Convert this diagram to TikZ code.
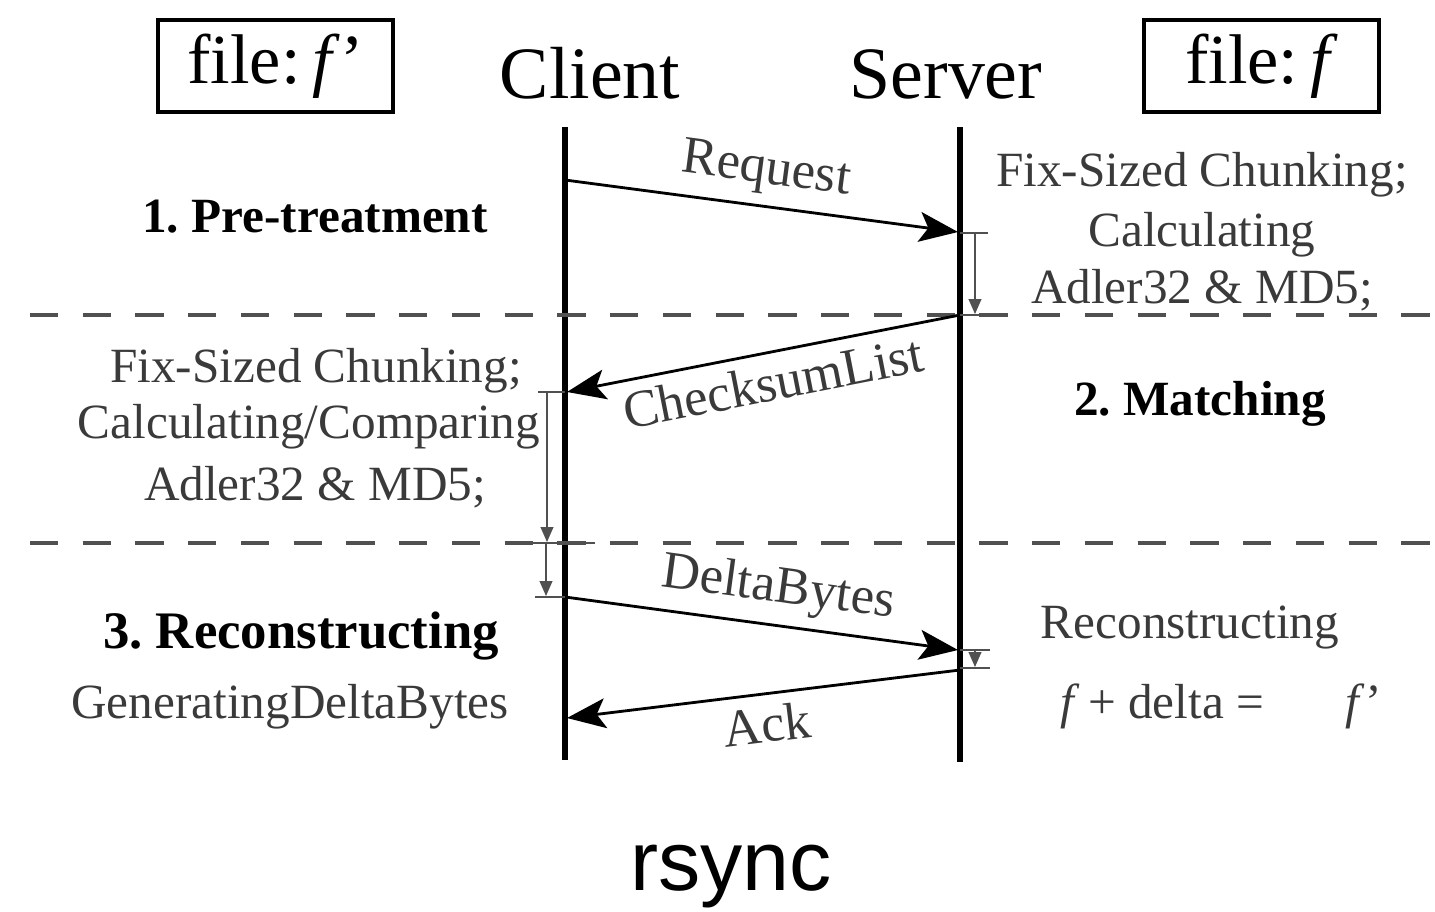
\documentclass[tikz,border=0pt]{standalone}
\usepackage{fontspec}
\setmainfont{Liberation Serif}
\newfontfamily\rsyncfont{Liberation Sans}
\usetikzlibrary{arrows.meta}
\definecolor{labelgray}{HTML}{3A3A3A}
\definecolor{rulegray}{HTML}{505050}
\frenchspacing

\begin{document}
\begin{tikzpicture}[x=0.01cm,y=-0.01cm,
  lifeline/.style={line width=1.5pt, black},
  msg/.style={line width=0.8pt, black, -{Stealth[length=11pt,width=8.5pt,inset=2.5pt]}},
  phase/.style={line width=0.9pt, rulegray, dash pattern=on 8pt off 7pt},
  tickmark/.style={line width=0.7pt, rulegray},
  duration/.style={line width=0.4pt, rulegray, -{Triangle[length=4.2pt,width=3.6pt]}},
  actor/.style={font=\fontsize{21}{25}\selectfont, anchor=base, inner sep=0pt},
  filebox/.style={draw, line width=0.9pt, minimum width=2.35cm, minimum height=0.92cm,
    inner sep=0pt, font=\fontsize{20}{24}\selectfont},
  phasename/.style={font=\bfseries\fontsize{14}{17}\selectfont, anchor=base, inner sep=0pt},
  note/.style={font=\fontsize{14}{17}\selectfont, text=labelgray, anchor=base, inner sep=0pt},
  msglabel/.style={font=\fontsize{15}{18}\selectfont, text=labelgray, sloped, inner sep=3pt}
]
\useasboundingbox (0,0) rectangle (1435,912);

% files and actors
\node[filebox] (fileC) at (275.5,66) {file:\,\textit{f}’};
\node[filebox] (fileS) at (1261.5,66) {file:\,\textit{f}};
\node[actor] (client) at (590,98) {Client};
\node[actor] (server) at (946,98) {Server};

% lifelines
\coordinate (cTop) at (565,127);
\coordinate (cBot) at (565,760);
\coordinate (sTop) at (960,127);
\coordinate (sBot) at (960,762);
\draw[lifeline] (cTop) -- (cBot);
\draw[lifeline] (sTop) -- (sBot);

% phase separators
\coordinate (p1L) at (30,315);
\coordinate (p1R) at (1435,315);
\coordinate (p2L) at (30,543);
\coordinate (p2R) at (1435,543);
\draw[phase] (p1L) -- (p1R);
\draw[phase] (p2L) -- (p2R);

% message end points
\coordinate (reqS) at (565,180);
\coordinate (reqE) at (958,232);
\coordinate (chkS) at (960,315);
\coordinate (chkE) at (567,392);
\coordinate (dltS) at (565,597);
\coordinate (dltE) at (958,650);
\coordinate (ackS) at (960,670);
\coordinate (ackE) at (567,718);

% messages
\draw[msg] (reqS) -- node[msglabel, above] {Request} (reqE);
\draw[msg] (chkS) -- node[msglabel, below, pos=0.49] {ChecksumList} (chkE);
\draw[msg] (dltS) -- node[msglabel, above, pos=0.53] {DeltaBytes} (dltE);
\draw[msg] (ackS) -- node[msglabel, below] {Ack} (ackE);

% server processing: pre-treatment
\coordinate (t1a) at (960,233);
\coordinate (t1b) at (988,233);
\coordinate (t2a) at (960,315);
\coordinate (t2b) at (986,315);
\draw[tickmark] (t1a) -- (t1b);
\draw[tickmark] (t2a) -- (t2b);
\coordinate (d1s) at (975,233);
\coordinate (d1e) at (975,314);
\draw[duration] (d1s) -- (d1e);

% client processing: matching and delta generation
\coordinate (t3a) at (538,392);
\coordinate (t3b) at (565,392);
\coordinate (t4a) at (516,543);
\coordinate (t4b) at (595,543);
\coordinate (t5a) at (535,597);
\coordinate (t5b) at (565,597);
\draw[tickmark] (t3a) -- (t3b);
\draw[tickmark] (t4a) -- (t4b);
\draw[tickmark] (t5a) -- (t5b);
\coordinate (d2s) at (547,392);
\coordinate (d2e) at (547,542);
\coordinate (d3s) at (546,543);
\coordinate (d3e) at (546,596);
\draw[duration] (d2s) -- (d2e);
\draw[duration] (d3s) -- (d3e);

% server processing: reconstruction
\coordinate (t6a) at (960,650);
\coordinate (t6b) at (990,650);
\coordinate (t7a) at (960,668);
\coordinate (t7b) at (990,668);
\draw[tickmark] (t6a) -- (t6b);
\draw[tickmark] (t7a) -- (t7b);
\coordinate (d4s) at (975,650);
\coordinate (d4e) at (975,667);
\draw[duration] (d4s) -- (d4e);

% phase names
\node[phasename] (ph1) at (315,232) {1. Pre-treatment};
\node[phasename] (ph2) at (1200,416) {2. Matching};
\node[phasename, font=\bfseries\fontsize{15}{18}\selectfont] (ph3) at (301,648) {3. Reconstructing};

% server notes
\node[note] (sn1) at (1202,186) {Fix-Sized Chunking;};
\node[note] (sn2) at (1202,246) {Calculating};
\node[note] (sn3) at (1202,303) {Adler32 \& MD5;};

% client notes
\node[note] (cn1) at (316,383) {Fix-Sized Chunking;};
\node[note] (cn2) at (309,438) {Calculating/Comparing};
\node[note] (cn3) at (315,500) {Adler32 \& MD5;};
\node[note] (cn4) at (290,718) {GeneratingDeltaBytes};

% reconstruction notes
\node[note] (rn1) at (1190,638) {Reconstructing};
\node[note, anchor=base west] (rn2) at (1060,718) {\textit{f}\,+ delta =};
\node[note, anchor=base west] (rn3) at (1345,718) {\textit{f}’};

% caption
\node[font=\rsyncfont\fontsize{24}{29}\selectfont, anchor=base, inner sep=0pt] (caption) at (731,890) {rsync};
\end{tikzpicture}
\end{document}
